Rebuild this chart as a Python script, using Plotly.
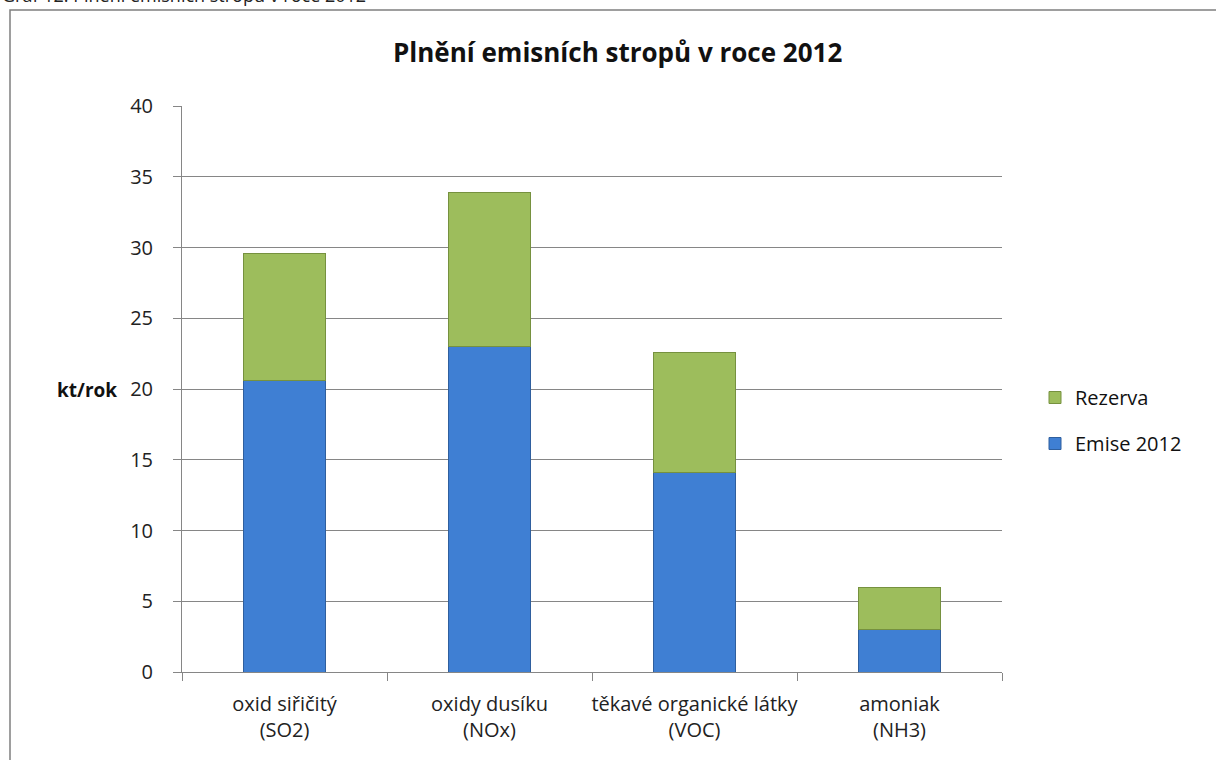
import plotly.graph_objects as go

# Emission ceilings 2012 (kt/rok): emissions and remaining reserve
categories = ["oxid siřičitý<br>(SO2)", "oxidy dusíku<br>(NOx)",
              "těkavé organické látky<br>(VOC)", "amoniak<br>(NH3)"]
emise_2012 = [20.6, 23.0, 14.1, 3.0]
rezerva = [9.0, 10.9, 8.5, 3.0]
y_ticks = [0, 5, 10, 15, 20, 25, 30, 35, 40]

W, H = 1216, 760
L, R, T, B = 182, 214, 106, 88
pw, ph = W - L - R, H - T - B

def px_x(x):
    return (x - L) / pw

def px_y(y):
    return (H - B - y) / ph

FONT = "'Open Sans', 'Noto Sans', sans-serif"

fig = go.Figure()
fig.add_trace(go.Bar(
    x=categories, y=emise_2012, name="Emise 2012",
    legendgroup="emise", legendrank=2,
    marker=dict(color="#3f7fd3", line=dict(color="#2f5f9e", width=1)),
    width=0.4,
))
fig.add_trace(go.Bar(
    x=categories, y=rezerva, name="Rezerva",
    legendgroup="rezerva", legendrank=1,
    marker=dict(color="#9dbd5c", line=dict(color="#76913f", width=1)),
    width=0.4,
))

fig.update_layout(
    width=W, height=H,
    margin=dict(l=L, r=R, t=T, b=B, autoexpand=False),
    barmode="stack",
    paper_bgcolor="white", plot_bgcolor="white",
    font=dict(family=FONT, size=20, color="#222"),
    showlegend=True,
    legend=dict(
        x=px_x(1035), y=px_y(378), xanchor="left", yanchor="top",
        traceorder="grouped", font=dict(size=20, color="#111"),
        itemwidth=30, tracegroupgap=17, bgcolor="rgba(0,0,0,0)",
    ),
    xaxis=dict(
        showline=True, linecolor="#868686", linewidth=1,
        ticks="outside", tickson="boundaries", ticklen=8, tickcolor="#868686",
        tickfont=dict(size=20, color="#222"), tickangle=0, automargin=False,
        ticklabelstandoff=14,
        showgrid=False,
    ),
    yaxis=dict(
        range=[0, 40], tickvals=y_ticks, automargin=False,
        showline=True, linecolor="#868686", linewidth=1,
        ticks="outside", ticklen=8, tickcolor="#868686",
        ticklabelstandoff=16,
        showgrid=True, gridcolor="#868686", gridwidth=1,
        tickfont=dict(size=20, color="#222"),
        zeroline=False,
    ),
    shapes=[dict(
        type="rect", xref="paper", yref="paper",
        x0=px_x(10), x1=px_x(1230), y0=px_y(780), y1=px_y(10),
        line=dict(color="#7f7f7f", width=1.5), fillcolor="rgba(0,0,0,0)",
        layer="below",
    )],
    annotations=[
        dict(text="<b>Plnění emisních stropů v roce 2012</b>",
             xref="paper", yref="paper", x=px_x(617), y=px_y(52),
             xanchor="center", yanchor="middle", showarrow=False,
             font=dict(size=26, color="#111")),
        dict(text="<b>kt/rok</b>", xref="paper", yref="paper",
             x=px_x(119), y=px_y(390), xanchor="right", yanchor="middle",
             showarrow=False, font=dict(size=19, color="#111")),
        dict(text="Graf 12: Plnění emisních stropů v roce 2012",
             xref="paper", yref="paper", x=px_x(0), y=px_y(-5),
             xanchor="left", yanchor="middle", showarrow=False,
             font=dict(size=18, color="#222")),
    ],
)

fig.write_html("out.html")
